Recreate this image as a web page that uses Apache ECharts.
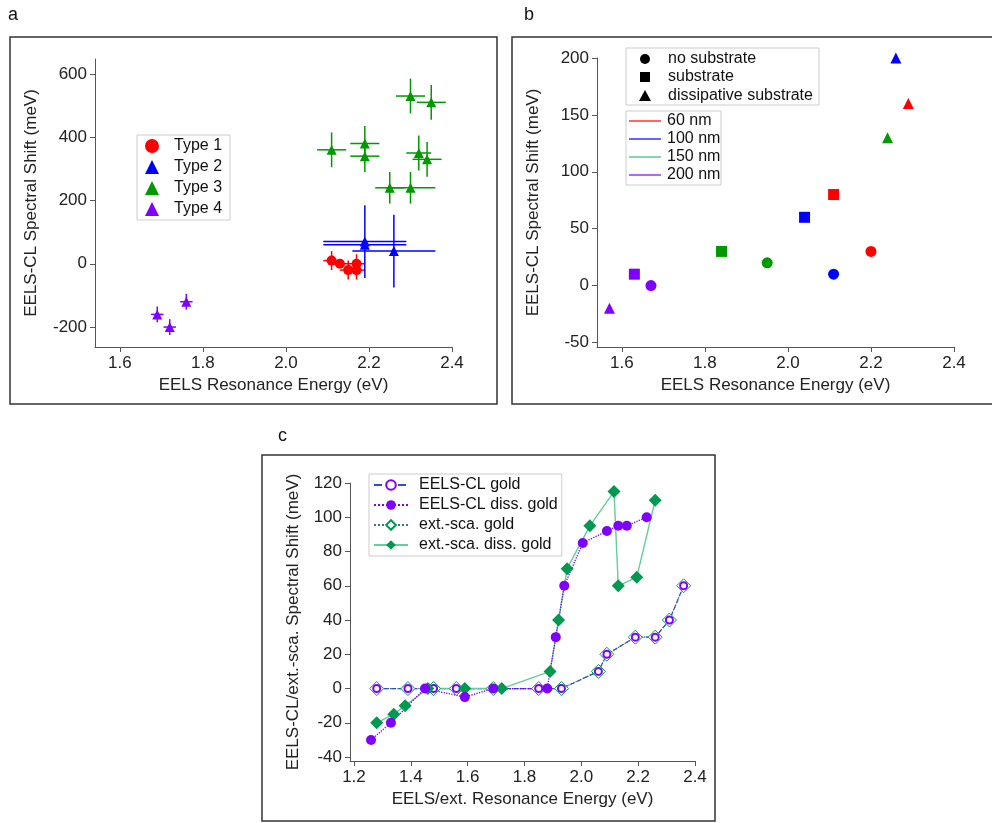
<!DOCTYPE html>
<html><head><meta charset="utf-8">
<script src="https://cdn.jsdelivr.net/npm/echarts@6/dist/echarts.min.js"></script>
<style>html,body{margin:0;padding:0;background:#fff}#c{width:992px;height:823px}</style>
</head><body><div id="c"></div>
<script>
// Panel a: [energy, shift, xErr, yErr]
const type1 = [[2.11,10,0.02,30],[2.13,0,0.02,0],[2.15,-20,0.02,30],[2.17,0,0.02,30],[2.17,-20,0.02,30]];
const type2 = [[2.19,70,0.1,115],[2.19,60,0.1,0],[2.26,40,0.1,115]];
const type3 = [[2.11,360,0.035,55],[2.19,380,0.035,55],[2.19,340,0.035,50],[2.25,240,0.035,50],[2.30,240,0.06,50],[2.30,530,0.035,55],[2.35,510,0.035,55],[2.32,350,0.03,55],[2.34,330,0.035,55]];
const type4 = [[1.69,-160,0.015,25],[1.72,-200,0.015,25],[1.76,-120,0.015,25]];
// Panel b
const noSub = [[1.67,0,'#7f00ff'],[1.95,20,'#009900'],[2.11,10,'#0000ff'],[2.20,30,'#ff0000']];
const sub = [[1.63,10,'#7f00ff'],[1.84,30,'#009900'],[2.04,60,'#0000ff'],[2.11,80,'#ff0000']];
const dissSub = [[1.57,-20,'#7f00ff'],[2.24,130,'#009900'],[2.26,200,'#0000ff'],[2.29,160,'#ff0000']];
// Panel c
const goldX = [1.28,1.39,1.48,1.56,1.69,1.85,1.93,2.06,2.09,2.19,2.26,2.31,2.36];
const goldY = [0,0,0,0,0,0,0,10,20,30,30,40,60];
const clDiss = [[1.26,-30],[1.33,-20],[1.45,0],[1.59,-5],[1.69,0],[1.88,0],[1.91,30],[1.94,60],[2.005,85],[2.09,92],[2.13,95],[2.16,95],[2.23,100]];
const scaDiss = [[1.28,-20],[1.34,-15],[1.38,-10],[1.46,0],[1.59,0],[1.72,0],[1.89,10],[1.92,40],[1.95,70],[2.03,95],[2.115,115],[2.13,60],[2.195,65],[2.26,110]];
const ticksE = [1.6,1.8,2.0,2.2,2.4];
const ticksAy = [-200,0,200,400,600];
const ticksBy = [-50,0,50,100,150,200];
const ticksCx = [1.2,1.4,1.6,1.8,2.0,2.2,2.4];
const ticksCy = [-40,-20,0,20,40,60,80,100,120];

const RED='#ff0000',BLUE='#0000ff',GREEN='#009900',PURP='#7f00ff',LG='#66cc99',DG='#009950';
const F='Liberation Sans, Arial, sans-serif';
function xa(gi,min,max,ticks,name){return {type:'value',gridIndex:gi,min,max,name,nameLocation:'middle',nameGap:30,
 nameTextStyle:{fontFamily:F,fontSize:17,color:'#222'},splitLine:{show:false},
 axisLine:{onZero:false,lineStyle:{color:'#555'}},axisTick:{customValues:ticks,length:5,lineStyle:{color:'#555'}},
 axisLabel:{customValues:ticks,fontFamily:F,fontSize:17,color:'#222',formatter:v=>v.toFixed(1)}};}
function ya(gi,min,max,ticks,name,gap){return {type:'value',gridIndex:gi,min,max,name,nameLocation:'middle',nameGap:gap,
 nameTextStyle:{fontFamily:F,fontSize:17,color:'#222'},splitLine:{show:false},
 axisLine:{show:true,onZero:false,lineStyle:{color:'#555'}},axisTick:{show:true,customValues:ticks,length:5,lineStyle:{color:'#555'}},
 axisLabel:{customValues:ticks,fontFamily:F,fontSize:17,color:'#222'}};}
function err(data,color,gi){return {type:'custom',xAxisIndex:gi,yAxisIndex:gi,data,silent:true,z:2,
 renderItem:(p,api)=>{const x=api.value(0),y=api.value(1),dx=api.value(2),dy=api.value(3);
  const a=api.coord([x-dx,y]),b=api.coord([x+dx,y]),c=api.coord([x,y-dy]),d=api.coord([x,y+dy]);
  const st={stroke:color,lineWidth:1.5};
  return {type:'group',children:[{type:'line',shape:{x1:a[0],y1:a[1],x2:b[0],y2:b[1]},style:st},{type:'line',shape:{x1:c[0],y1:c[1],x2:d[0],y2:d[1]},style:st}]};}};}
function sc(name,data,color,sym,gi,size){return {name,type:'scatter',xAxisIndex:gi,yAxisIndex:gi,data:data.map(d=>[d[0],d[1]]),symbol:sym,symbolSize:size||11,itemStyle:{color,opacity:1},z:3};}
function bsc(data,sym){return {type:'scatter',xAxisIndex:1,yAxisIndex:1,symbol:sym,symbolSize:11,data:data.map(d=>({value:[d[0],d[1]],itemStyle:{color:d[2],opacity:1}})),z:3};}

const chart=echarts.init(document.getElementById('c'));
const frame=(x,y,w,h)=>({type:'rect',shape:{x,y,width:w,height:h},style:{fill:'none',stroke:'#333',lineWidth:1.5},silent:true});
const txt=(x,y,t,fs)=>({type:'text',x,y,style:{text:t,font:(fs||16)+'px '+F,fill:'#111',textVerticalAlign:'middle'}});
const blackSym=(x,y,sym)=>sym==='circle'?{type:'circle',shape:{cx:x,cy:y,r:5},style:{fill:'#000'}}:
 sym==='rect'?{type:'rect',shape:{x:x-5,y:y-5,width:10,height:10},style:{fill:'#000'}}:
 {type:'polygon',shape:{points:[[x,y-6],[x-6,y+5],[x+6,y+5]]},style:{fill:'#000'}};
const lineItem=(x,y,c)=>({type:'line',shape:{x1:x,y1:y,x2:x+32,y2:y},style:{stroke:c,lineWidth:1.2}});

chart.setOption({
 animation:false,
 grid:[{left:95,top:59,width:357,height:288},{left:597,top:58,width:357,height:289},{left:350,top:483,width:345,height:278}],
 xAxis:[xa(0,1.54,2.4,ticksE,'EELS Resonance Energy (eV)'),xa(1,1.54,2.4,ticksE,'EELS Resonance Energy (eV)'),xa(2,1.186,2.4,ticksCx,'EELS/ext. Resonance Energy (eV)')],
 yAxis:[ya(0,-263,647,ticksAy,'EELS-CL Spectral Shift (meV)',55),ya(1,-54,200,ticksBy,'EELS-CL Spectral Shift (meV)',55),ya(2,-42.3,120,ticksCy,'EELS-CL/ext.-sca. Spectral Shift (meV)',48)],
 legend:[{data:['Type 1','Type 2','Type 3','Type 4'],left:137,top:135,orient:'vertical',itemGap:5,itemWidth:14,itemHeight:14,
   padding:[3,8,3,8],borderColor:'#ccc',borderWidth:1,textStyle:{fontFamily:F,fontSize:16,color:'#111',padding:[0,0,0,10]}},
  {data:['EELS-CL gold','EELS-CL diss. gold','ext.-sca. gold','ext.-sca. diss. gold'],left:369,top:474,orient:'vertical',itemGap:4,itemWidth:34,itemHeight:12,
   padding:[3,4,3,4],borderColor:'#ccc',borderWidth:1,textStyle:{fontFamily:F,fontSize:16,color:'#111',padding:[0,0,0,6]}}],
 series:[
  err(type1,RED,0),err(type2,BLUE,0),err(type3,GREEN,0),err(type4,PURP,0),
  sc('Type 1',type1,RED,'circle',0,10),sc('Type 2',type2,BLUE,'triangle',0,10),sc('Type 3',type3,GREEN,'triangle',0,10),sc('Type 4',type4,PURP,'triangle',0,10),
  bsc(noSub,'circle'),bsc(sub,'rect'),bsc(dissSub,'triangle'),
  {name:'ext.-sca. gold',type:'line',xAxisIndex:2,yAxisIndex:2,data:goldX.map((x,i)=>[x,goldY[i]]),symbol:'diamond',symbolSize:14,
   itemStyle:{color:'#fff',borderColor:DG,borderWidth:1},lineStyle:{color:'#2a7f7f',width:1.3,type:'dotted'}},
  {name:'EELS-CL gold',type:'line',xAxisIndex:2,yAxisIndex:2,data:goldX.map((x,i)=>[x,goldY[i]]),symbol:'emptyCircle',symbolSize:7,
   itemStyle:{color:PURP,borderColor:PURP,borderWidth:1},lineStyle:{color:'#3050c0',width:1.2,type:'dashed'}},
  {name:'ext.-sca. diss. gold',type:'line',xAxisIndex:2,yAxisIndex:2,data:scaDiss,symbol:'diamond',symbolSize:13,
   itemStyle:{color:DG},lineStyle:{color:LG,width:1.4}},
  {name:'EELS-CL diss. gold',type:'line',xAxisIndex:2,yAxisIndex:2,data:clDiss,symbol:'circle',symbolSize:10,
   itemStyle:{color:PURP},lineStyle:{color:PURP,width:1.3,type:'dotted'}}
 ],
 graphic:[
  frame(10,37,487,367),frame(512,37,490,367),frame(262,455,453,366),
  txt(8,15,'a',18),txt(524,15,'b',18),txt(278,436,'c',18),
  {type:'rect',shape:{x:626,y:48,width:193,height:57},style:{fill:'#fff',stroke:'#ccc'}},
  blackSym(645,59,'circle'),blackSym(645,77,'rect'),blackSym(645,96,'triangle'),
  txt(668,59,'no substrate'),txt(668,77,'substrate'),txt(668,96,'dissipative substrate'),
  {type:'rect',shape:{x:626,y:111,width:95,height:74},style:{fill:'#fff',stroke:'#ccc'}},
  lineItem(629,121,RED),lineItem(629,139,BLUE),lineItem(629,157,'#33bb77'),lineItem(629,175,PURP),
  txt(667,121,'60 nm'),txt(667,139,'100 nm'),txt(667,157,'150 nm'),txt(667,175,'200 nm')
 ]
});
</script></body></html>
